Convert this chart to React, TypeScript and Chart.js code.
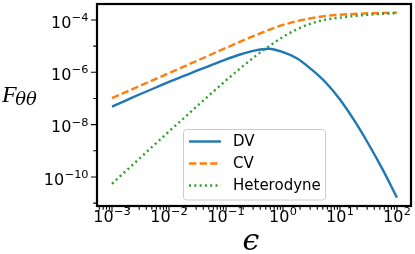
import React, { useEffect, useRef } from "react";
import { Chart, registerables } from "chart.js";

Chart.register(...registerables);

// log10(epsilon) sample positions
const logEpsilon = [-3, -2.75, -2.5, -2.25, -2, -1.75, -1.5, -1.25, -1, -0.75, -0.5, -0.25, 0, 0.25, 0.5, 0.75, 1, 1.25, 1.5, 1.75, 2];
// log10(F_thetatheta)
const logDV = [-7.31, -7.07, -6.83, -6.6, -6.37, -6.15, -5.93, -5.72, -5.51, -5.32, -5.17, -5.1, -5.23, -5.47, -5.89, -6.39, -7.04, -7.84, -8.74, -9.72, -10.79];
const logCV = [-6.99, -6.75, -6.51, -6.27, -6.03, -5.79, -5.55, -5.31, -5.07, -4.83, -4.6, -4.38, -4.19, -4.04, -3.93, -3.85, -3.8, -3.77, -3.745, -3.73, -3.72];
const logHet = [-10.26, -9.76, -9.26, -8.76, -8.26, -7.77, -7.28, -6.79, -6.31, -5.85, -5.41, -5.01, -4.65, -4.35, -4.13, -3.99, -3.91, -3.85, -3.8, -3.765, -3.74];

const seriesLabels = ["DV", "CV", "Heterodyne"];
const seriesColors = ["#1f77b4", "#ff7f0e", "#2ca02c"];

const xTickPowers = [-3, -2, -1, 0, 1, 2];
const xTickExpLabels = ["\u22123", "\u22122", "\u22121", "0", "1", "2"];
const yTickPowers = [-10, -8, -6, -4];
const yTickExpLabels = ["\u221210", "\u22128", "\u22126", "\u22124"];
const yMinorPowers = [-11, -9, -7, -5];

const xLogMin = -3.263;
const xLogMax = 2.246;
const yLogMin = -11.11;
const yLogMax = -3.39;

const xTitle = "\u03F5";
const yTitleMain = "F";
const yTitleSub = "\u03B8\u03B8";

export default function App() {
  const ref = useRef<HTMLCanvasElement | null>(null);

  useEffect(() => {
    document.body.style.margin = "0";
    const canvas = ref.current;
    if (!canvas) return;

    const eps = logEpsilon.map((v) => Math.pow(10, v));
    const mk = (arr: number[]) => arr.map((v, i) => ({ x: eps[i], y: Math.pow(10, v) }));

    const dashes = [[], [7.4, 3.2], [2, 3.3]];

    const decor = {
      id: "decor",
      afterDatasetsDraw(chart: any) {
        const ctx = chart.ctx as CanvasRenderingContext2D;
        const { left, right, top, bottom } = chart.chartArea;
        const xs = chart.scales.x;
        const ys = chart.scales.y;
        ctx.save();
        // frame
        ctx.strokeStyle = "#000";
        ctx.lineWidth = 2.2;
        ctx.strokeRect(left, top, right - left, bottom - top);

        // ticks
        ctx.lineWidth = 1.1;
        ctx.beginPath();
        for (const p of xTickPowers) {
          const px = xs.getPixelForValue(Math.pow(10, p));
          ctx.moveTo(px, bottom + 1);
          ctx.lineTo(px, bottom + 6);
        }
        for (let d = -4; d <= 2; d++) {
          for (let m = 2; m <= 9; m++) {
            const v = m * Math.pow(10, d);
            const lv = Math.log10(v);
            if (lv < xLogMin || lv > xLogMax) continue;
            const px = xs.getPixelForValue(v);
            ctx.moveTo(px, bottom + 1);
            ctx.lineTo(px, bottom + 3.8);
          }
        }
        for (const p of yTickPowers) {
          const py = ys.getPixelForValue(Math.pow(10, p));
          ctx.moveTo(left - 1, py);
          ctx.lineTo(left - 6, py);
        }
        for (const p of yMinorPowers) {
          const py = ys.getPixelForValue(Math.pow(10, p));
          ctx.moveTo(left - 1, py);
          ctx.lineTo(left - 3.8, py);
        }
        ctx.stroke();

        // tick labels
        ctx.fillStyle = "#000";
        ctx.textBaseline = "alphabetic";
        ctx.textAlign = "left";
        const mainFont = '16px "DejaVu Sans"';
        const supFont = '11.3px "DejaVu Sans"';
        const drawPow = (x: number, base: number, exp: string, align: string) => {
          ctx.font = mainFont;
          const w1 = ctx.measureText("10").width;
          ctx.font = supFont;
          const w2 = ctx.measureText(exp).width;
          const total = w1 + w2 + 0.5;
          const x0 = align === "center" ? x - total / 2 : x - total;
          ctx.font = mainFont;
          ctx.fillText("10", x0, base);
          ctx.font = supFont;
          ctx.fillText(exp, x0 + w1 + 0.5, base - 6.8);
        };
        xTickPowers.forEach((p, i) => {
          const px = xs.getPixelForValue(Math.pow(10, p));
          drawPow(px, bottom + 16, xTickExpLabels[i], "center");
        });
        yTickPowers.forEach((p, i) => {
          const py = ys.getPixelForValue(Math.pow(10, p));
          drawPow(left - 8.5, py + 7.8, yTickExpLabels[i], "right");
        });

        // axis titles
        ctx.font = 'italic 30px "DejaVu Serif"';
        ctx.textAlign = "center";
        ctx.fillText(xTitle, 251, 250);
        ctx.textAlign = "left";
        ctx.font = 'italic 24px "Liberation Serif"';
        ctx.fillText(yTitleMain, 2, 102);
        const fw = ctx.measureText(yTitleMain).width;
        ctx.font = 'italic 18px "DejaVu Serif"';
        ctx.fillText(yTitleSub, 2 + fw - 1.5, 105);

        // legend
        const lx = 183.5, ly = 129.5, lw = 142, lh = 70.5, r = 3;
        ctx.beginPath();
        ctx.moveTo(lx + r, ly);
        ctx.lineTo(lx + lw - r, ly);
        ctx.quadraticCurveTo(lx + lw, ly, lx + lw, ly + r);
        ctx.lineTo(lx + lw, ly + lh - r);
        ctx.quadraticCurveTo(lx + lw, ly + lh, lx + lw - r, ly + lh);
        ctx.lineTo(lx + r, ly + lh);
        ctx.quadraticCurveTo(lx, ly + lh, lx, ly + lh - r);
        ctx.lineTo(lx, ly + r);
        ctx.quadraticCurveTo(lx, ly, lx + r, ly);
        ctx.closePath();
        ctx.fillStyle = "rgba(255,255,255,0.8)";
        ctx.fill();
        ctx.strokeStyle = "#cccccc";
        ctx.lineWidth = 1;
        ctx.stroke();

        const rows = [141.5, 163.5, 185.5];
        ctx.font = '15px "DejaVu Sans"';
        ctx.textBaseline = "middle";
        seriesLabels.forEach((lab, i) => {
          ctx.beginPath();
          ctx.setLineDash(dashes[i]);
          ctx.strokeStyle = seriesColors[i];
          ctx.lineWidth = 2.4;
          ctx.lineCap = "butt";
          ctx.moveTo(189, rows[i]);
          ctx.lineTo(221, rows[i]);
          ctx.stroke();
          ctx.setLineDash([]);
          ctx.fillStyle = "#000";
          ctx.fillText(lab, 233, rows[i] + 1);
        });
        ctx.restore();
      },
    };

    const chart = new Chart(canvas, {
      type: "line",
      data: {
        datasets: [
          { label: seriesLabels[0], data: mk(logDV), borderColor: seriesColors[0], borderWidth: 2.4, pointRadius: 0, cubicInterpolationMode: "monotone", order: 2 },
          { label: seriesLabels[1], data: mk(logCV), borderColor: seriesColors[1], borderWidth: 2.4, borderDash: dashes[1], pointRadius: 0, cubicInterpolationMode: "monotone", order: 1 },
          { label: seriesLabels[2], data: mk(logHet), borderColor: seriesColors[2], borderWidth: 2.4, borderDash: dashes[2], pointRadius: 0, cubicInterpolationMode: "monotone", order: 0 },
        ],
      } as any,
      options: {
        responsive: false,
        animation: false,
        devicePixelRatio: 1,
        layout: { padding: { left: 97, right: 4, top: 4, bottom: 48 } },
        plugins: { legend: { display: false }, tooltip: { enabled: false } },
        scales: {
          x: { type: "logarithmic", display: false, min: Math.pow(10, xLogMin), max: Math.pow(10, xLogMax) },
          y: { type: "logarithmic", display: false, min: Math.pow(10, yLogMin), max: Math.pow(10, yLogMax) },
        },
      } as any,
      plugins: [decor],
    });
    return () => chart.destroy();
  }, []);

  return <canvas ref={ref} width={415} height={254} style={{ display: "block" }} />;
}
